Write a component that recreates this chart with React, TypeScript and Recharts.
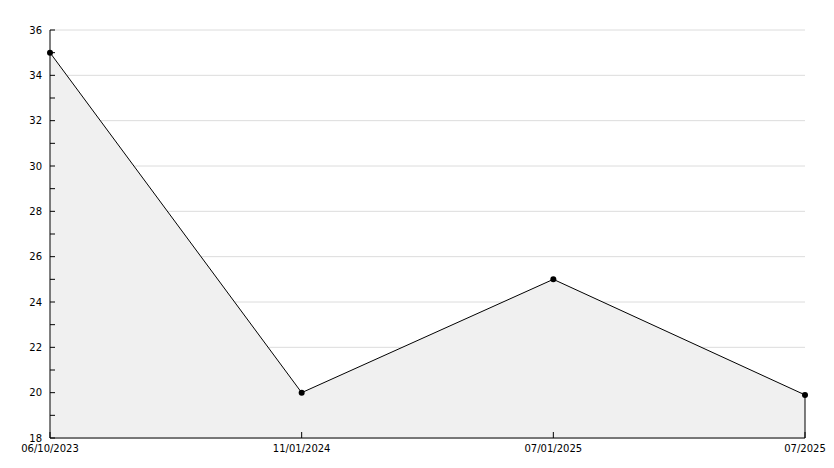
import { AreaChart, Area, XAxis, YAxis, CartesianGrid, ReferenceLine } from 'recharts';

const dates = ['06/10/2023', '11/01/2024', '07/01/2025', '07/2025'];
const values = [35, 20, 25, 19.9];
const yTicks = [18, 19, 20, 21, 22, 23, 24, 25, 26, 27, 28, 29, 30, 31, 32, 33, 34, 35, 36];
const gridValues = [18, 20, 22, 24, 26, 28, 30, 32, 34, 36];

const data = dates.map((d, i) => ({ date: d, value: values[i] }));
const lastDate = dates[dates.length - 1];
const lastValue = values[values.length - 1];

const font = { fontFamily: 'DejaVu Sans', fontSize: 10, fill: '#000' };

export default function App() {
  return (
    <div style={{ position: 'absolute', left: 0, top: 0 }}>
      <AreaChart
        width={834}
        height={468}
        data={data}
        margin={{ top: 30, right: 29, bottom: 0, left: 0 }}
      >
        <CartesianGrid vertical={false} stroke="#dcdcdc" horizontalValues={gridValues} />
        <XAxis
          dataKey="date"
          height={30}
          interval={0}
          stroke="#000"
          tickSize={-6}
          tickMargin={13}
          tick={font}
        />
        <YAxis
          width={50}
          domain={[18, 36]}
          ticks={yTicks}
          interval={0}
          stroke="#000"
          tickSize={-5}
          tickMargin={13}
          tick={font}
          tickFormatter={(v: number) => (v % 2 === 0 ? String(v) : '')}
        />
        <Area
          type="linear"
          dataKey="value"
          stroke="#000"
          strokeWidth={1}
          fill="#f0f0f0"
          fillOpacity={1}
          dot={{ r: 3, fill: '#000', stroke: 'none' }}
          activeDot={false}
          isAnimationActive={false}
        />
        <ReferenceLine
          segment={[
            { x: lastDate, y: 18 },
            { x: lastDate, y: lastValue },
          ]}
          stroke="#000"
        />
      </AreaChart>
    </div>
  );
}
